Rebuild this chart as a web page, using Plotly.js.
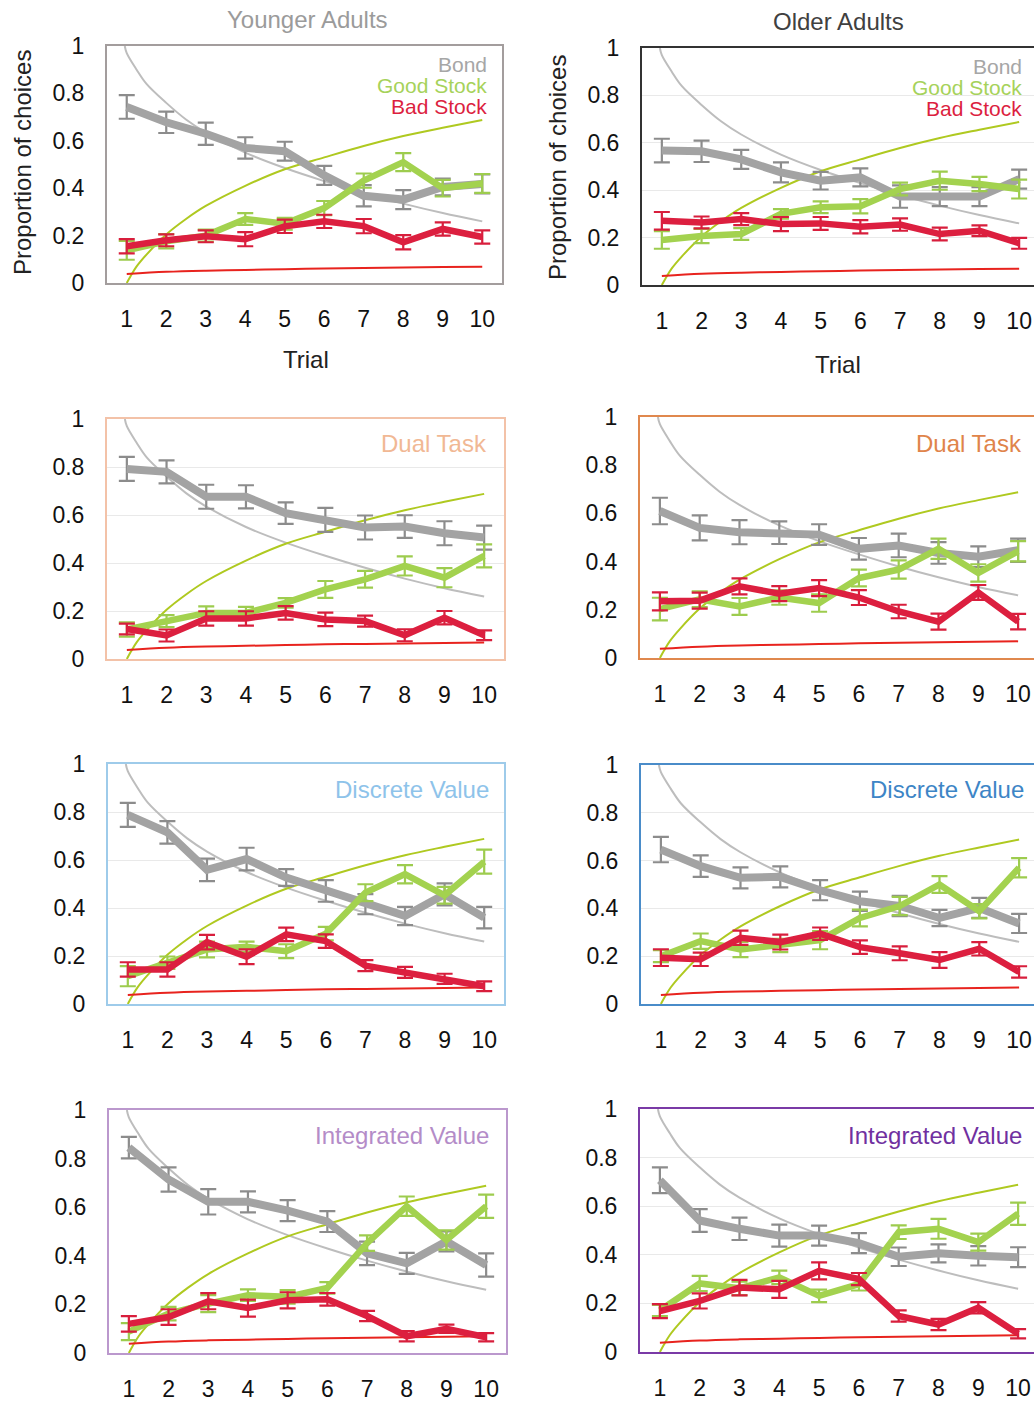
<!DOCTYPE html>
<html>
<head>
<meta charset="utf-8">
<script src="https://cdn.plot.ly/plotly-3.0.1.min.js"></script>
<style>
  html, body { margin: 0; padding: 0; background: #fff; overflow: hidden; }
  #chart { width: 1040px; height: 1401px; }
</style>
</head>
<body>
<div id="chart"></div>
<script>
// ---------- DATA ----------
const trials = [1, 2, 3, 4, 5, 6, 7, 8, 9, 10];
const yTickVals = [0, 0.2, 0.4, 0.6, 0.8, 1];
const yTickText = ["0", "0.2", "0.4", "0.6", "0.8", "1"];
const xTickText = ["1", "2", "3", "4", "5", "6", "7", "8", "9", "10"];

// Model curves (identical in every panel)
const modelBondX = [0.95, 1, 1.25, 1.5, 2, 2.5, 3, 4, 5, 6, 7, 8, 9, 10];
const modelBondY = [1.0, 0.97, 0.9, 0.84, 0.76, 0.69, 0.635, 0.55, 0.485, 0.43, 0.38, 0.335, 0.295, 0.26];
const modelGoodX = [1, 1.1, 1.25, 1.5, 2, 2.5, 3, 4, 5, 6, 7, 8, 9, 10];
const modelGoodY = [0, 0.03, 0.07, 0.12, 0.205, 0.27, 0.325, 0.41, 0.48, 0.53, 0.578, 0.62, 0.655, 0.688];
const modelBadX = [1, 2, 3, 4, 5, 6, 7, 8, 9, 10];
const modelBadY = [0.038, 0.047, 0.052, 0.055, 0.058, 0.061, 0.063, 0.065, 0.067, 0.069];

// Younger adults – baseline
const youngBaseBond = [0.743, 0.678, 0.63, 0.57, 0.556, 0.454, 0.368, 0.352, 0.405, 0.418];
const youngBaseBondErr = [0.05, 0.045, 0.047, 0.045, 0.04, 0.04, 0.045, 0.04, 0.035, 0.04];
const youngBaseGood = [0.138, 0.176, 0.2, 0.27, 0.25, 0.316, 0.432, 0.51, 0.40, 0.42];
const youngBaseGoodErr = [0.04, 0.03, 0.025, 0.025, 0.025, 0.03, 0.03, 0.038, 0.035, 0.04];
const youngBaseBad = [0.155, 0.18, 0.197, 0.185, 0.239, 0.26, 0.24, 0.172, 0.228, 0.194];
const youngBaseBadErr = [0.03, 0.025, 0.025, 0.03, 0.028, 0.028, 0.03, 0.03, 0.028, 0.028];

// Older adults – baseline
const oldBaseBond = [0.567, 0.564, 0.53, 0.475, 0.44, 0.454, 0.373, 0.373, 0.373, 0.447];
const oldBaseBondErr = [0.05, 0.045, 0.04, 0.042, 0.037, 0.038, 0.047, 0.04, 0.04, 0.04];
const oldBaseGood = [0.19, 0.207, 0.215, 0.30, 0.328, 0.332, 0.405, 0.44, 0.426, 0.405];
const oldBaseGoodErr = [0.037, 0.03, 0.025, 0.02, 0.025, 0.03, 0.027, 0.038, 0.03, 0.04];
const oldBaseBad = [0.271, 0.264, 0.278, 0.257, 0.26, 0.246, 0.255, 0.215, 0.229, 0.176];
const oldBaseBadErr = [0.037, 0.025, 0.025, 0.03, 0.027, 0.028, 0.026, 0.027, 0.023, 0.023];

// Younger adults – Dual Task
const youngDualBond = [0.792, 0.78, 0.676, 0.676, 0.608, 0.58, 0.548, 0.552, 0.524, 0.506];
const youngDualBondErr = [0.05, 0.048, 0.05, 0.048, 0.045, 0.05, 0.05, 0.047, 0.05, 0.05];
const youngDualGood = [0.123, 0.158, 0.192, 0.192, 0.234, 0.29, 0.332, 0.388, 0.339, 0.43];
const youngDualGoodErr = [0.03, 0.025, 0.027, 0.025, 0.02, 0.035, 0.035, 0.04, 0.04, 0.048];
const youngDualBad = [0.125, 0.098, 0.169, 0.169, 0.192, 0.165, 0.158, 0.099, 0.172, 0.099];
const youngDualBadErr = [0.022, 0.025, 0.03, 0.03, 0.028, 0.028, 0.023, 0.025, 0.028, 0.02];

// Older adults – Dual Task
const oldDualBond = [0.61, 0.54, 0.522, 0.52, 0.512, 0.453, 0.467, 0.436, 0.42, 0.447];
const oldDualBondErr = [0.055, 0.052, 0.05, 0.047, 0.043, 0.045, 0.049, 0.045, 0.043, 0.048];
const oldDualGood = [0.203, 0.244, 0.214, 0.251, 0.228, 0.332, 0.367, 0.453, 0.353, 0.443];
const oldDualGoodErr = [0.047, 0.033, 0.035, 0.03, 0.036, 0.035, 0.038, 0.042, 0.036, 0.042];
const oldDualBad = [0.235, 0.238, 0.297, 0.267, 0.29, 0.251, 0.193, 0.151, 0.272, 0.151];
const oldDualBadErr = [0.037, 0.033, 0.033, 0.031, 0.033, 0.031, 0.028, 0.033, 0.031, 0.032];

// Younger adults – Discrete Value
const youngDiscBond = [0.788, 0.715, 0.559, 0.604, 0.527, 0.471, 0.416, 0.367, 0.457, 0.36];
const youngDiscBondErr = [0.05, 0.047, 0.047, 0.047, 0.035, 0.045, 0.042, 0.038, 0.046, 0.045];
const youngDiscGood = [0.116, 0.172, 0.227, 0.238, 0.22, 0.293, 0.464, 0.541, 0.453, 0.593];
const youngDiscGoodErr = [0.042, 0.026, 0.033, 0.022, 0.029, 0.028, 0.035, 0.038, 0.035, 0.05];
const youngDiscBad = [0.144, 0.144, 0.258, 0.197, 0.29, 0.262, 0.16, 0.132, 0.105, 0.074];
const youngDiscBadErr = [0.03, 0.03, 0.03, 0.031, 0.028, 0.028, 0.023, 0.023, 0.021, 0.02];

// Older adults – Discrete Value
const oldDiscBond = [0.646, 0.577, 0.528, 0.532, 0.476, 0.43, 0.41, 0.36, 0.402, 0.337];
const oldDiscBondErr = [0.053, 0.045, 0.044, 0.044, 0.042, 0.04, 0.042, 0.034, 0.042, 0.04];
const oldDiscGood = [0.2, 0.263, 0.228, 0.245, 0.267, 0.36, 0.41, 0.5, 0.388, 0.57];
const oldDiscGoodErr = [0.025, 0.032, 0.032, 0.028, 0.038, 0.035, 0.038, 0.035, 0.03, 0.04];
const oldDiscBad = [0.194, 0.187, 0.277, 0.259, 0.294, 0.238, 0.212, 0.184, 0.231, 0.134];
const oldDiscBadErr = [0.035, 0.028, 0.03, 0.031, 0.026, 0.028, 0.029, 0.033, 0.028, 0.024];

// Younger adults – Integrated Value
const youngIntBond = [0.845, 0.714, 0.622, 0.622, 0.586, 0.541, 0.41, 0.369, 0.459, 0.362];
const youngIntBondErr = [0.044, 0.05, 0.052, 0.043, 0.043, 0.043, 0.048, 0.043, 0.041, 0.048];
const youngIntGood = [0.088, 0.162, 0.203, 0.238, 0.231, 0.268, 0.452, 0.604, 0.465, 0.604];
const youngIntGoodErr = [0.035, 0.028, 0.035, 0.024, 0.028, 0.024, 0.032, 0.04, 0.04, 0.048];
const youngIntBad = [0.12, 0.148, 0.213, 0.185, 0.217, 0.221, 0.152, 0.069, 0.1, 0.065];
const youngIntBadErr = [0.032, 0.032, 0.033, 0.035, 0.033, 0.026, 0.021, 0.021, 0.017, 0.017];

// Older adults – Integrated Value
const oldIntBond = [0.707, 0.541, 0.507, 0.479, 0.479, 0.448, 0.392, 0.406, 0.396, 0.39];
const oldIntBondErr = [0.053, 0.047, 0.046, 0.045, 0.041, 0.041, 0.038, 0.037, 0.04, 0.041];
const oldIntGood = [0.171, 0.282, 0.262, 0.307, 0.231, 0.279, 0.493, 0.507, 0.452, 0.569];
const oldIntGoodErr = [0.023, 0.031, 0.028, 0.028, 0.026, 0.026, 0.028, 0.041, 0.035, 0.046];
const oldIntBad = [0.168, 0.21, 0.265, 0.258, 0.334, 0.3, 0.148, 0.113, 0.182, 0.075];
const oldIntBadErr = [0.029, 0.031, 0.032, 0.035, 0.035, 0.025, 0.023, 0.023, 0.023, 0.019];

// ---------- LAYOUT HELPERS ----------
const W = 1040, H = 1401;
const FONT = "Liberation Sans, Arial, Helvetica, sans-serif";
const px = v => v / W;
const py = v => 1 - v / H;

const C = {
  bond: "#a3a3a3", bondErr: "#8c8c8c", bondModel: "#bdbdbd", bondText: "#a6a6a6",
  good: "#a3d24f", goodErr: "#9dcc4e", goodModel: "#afc920", goodText: "#a6d25a",
  bad: "#dc1f3f", badErr: "#d81e3c", badModel: "#e8231e", badText: "#dc1f3f"
};

// panel boxes in pixels: [left, right, top, bottom], frame colour, label, label colour, grid
const panels = [
  { box: [107, 502, 46, 283], frame: "#a39d9d", label: null, grid: false,
    d: [youngBaseBond, youngBaseBondErr, youngBaseGood, youngBaseGoodErr, youngBaseBad, youngBaseBadErr] },
  { box: [642, 1039, 48, 285], frame: "#333333", label: null, grid: true,
    d: [oldBaseBond, oldBaseBondErr, oldBaseGood, oldBaseGoodErr, oldBaseBad, oldBaseBadErr] },
  { box: [107, 504, 419, 659], frame: "#f3c2a8", label: "Dual Task", labelColor: "#f1b894", lx: 489, ly: 444, grid: true,
    d: [youngDualBond, youngDualBondErr, youngDualGood, youngDualGoodErr, youngDualBad, youngDualBadErr] },
  { box: [640, 1038, 417, 658], frame: "#e0884e", label: "Dual Task", labelColor: "#e0844a", lx: 1024, ly: 444, grid: false,
    d: [oldDualBond, oldDualBondErr, oldDualGood, oldDualGoodErr, oldDualBad, oldDualBadErr] },
  { box: [108, 504, 764, 1004], frame: "#9ecbea", label: "Discrete Value", labelColor: "#8ec3ea", lx: 491, ly: 789, grid: true,
    d: [youngDiscBond, youngDiscBondErr, youngDiscGood, youngDiscGoodErr, youngDiscBad, youngDiscBadErr] },
  { box: [641, 1039, 765, 1004], frame: "#4a8cc9", label: "Discrete Value", labelColor: "#3d85c6", lx: 1026, ly: 789, grid: true,
    d: [oldDiscBond, oldDiscBondErr, oldDiscGood, oldDiscGoodErr, oldDiscBad, oldDiscBadErr] },
  { box: [109, 506, 1110, 1353], frame: "#bb98cd", label: "Integrated Value", labelColor: "#b48cc8", lx: 491, ly: 1135, grid: false,
    d: [youngIntBond, youngIntBondErr, youngIntGood, youngIntGoodErr, youngIntBad, youngIntBadErr] },
  { box: [640, 1038, 1109, 1352], frame: "#7a3aa6", label: "Integrated Value", labelColor: "#7030a0", lx: 1024, ly: 1135, grid: true,
    d: [oldIntBond, oldIntBondErr, oldIntGood, oldIntGoodErr, oldIntBad, oldIntBadErr] }
];

const traces = [];
const layout = {
  width: W, height: H,
  margin: { l: 0, r: 0, t: 0, b: 0 },
  paper_bgcolor: "#ffffff", plot_bgcolor: "rgba(0,0,0,0)",
  showlegend: false,
  font: { family: FONT, size: 23, color: "#111111" },
  annotations: []
};

panels.forEach((p, i) => {
  const n = i + 1;
  const xa = "x" + (n === 1 ? "" : n), ya = "y" + (n === 1 ? "" : n);
  const xk = "xaxis" + (n === 1 ? "" : n), yk = "yaxis" + (n === 1 ? "" : n);
  const [l, r, t, b] = p.box;
  layout[xk] = {
    domain: [px(l), px(r)], anchor: ya, range: [0.5, 10.5],
    tickvals: trials, ticktext: xTickText, ticks: "", ticklabelstandoff: 14,
    showgrid: false, zeroline: false, showline: true, mirror: true,
    linecolor: p.frame, linewidth: 2,
    tickfont: { family: FONT, size: 23, color: "#111111" }, fixedrange: true
  };
  layout[yk] = {
    domain: [py(b), py(t)], anchor: xa, range: [0, 1],
    tickvals: yTickVals, ticktext: yTickText, ticks: "", ticklabelstandoff: 16,
    showgrid: p.grid, gridcolor: "#e9e9e9", gridwidth: 1, zeroline: false,
    showline: true, mirror: true, linecolor: p.frame, linewidth: 2,
    tickfont: { family: FONT, size: 23, color: "#111111" }, fixedrange: true
  };

  // model curves
  traces.push({ x: modelBondX, y: modelBondY, xaxis: xa, yaxis: ya, mode: "lines",
    line: { color: C.bondModel, width: 2, shape: "spline", smoothing: 1 }, hoverinfo: "skip" });
  traces.push({ x: modelGoodX, y: modelGoodY, xaxis: xa, yaxis: ya, mode: "lines",
    line: { color: C.goodModel, width: 2, shape: "spline", smoothing: 1 }, hoverinfo: "skip" });
  traces.push({ x: modelBadX, y: modelBadY, xaxis: xa, yaxis: ya, mode: "lines",
    line: { color: C.badModel, width: 2, shape: "spline", smoothing: 1 }, hoverinfo: "skip" });

  const [bond, bondErr, good, goodErr, bad, badErr] = p.d;
  traces.push({ x: trials, y: bond, xaxis: xa, yaxis: ya, mode: "lines", name: "Bond",
    line: { color: C.bond, width: 8 },
    error_y: { type: "data", array: bondErr, visible: true, color: C.bondErr, thickness: 2.2, width: 8 } });
  traces.push({ x: trials, y: good, xaxis: xa, yaxis: ya, mode: "lines", name: "Good Stock",
    line: { color: C.good, width: 6.5 },
    error_y: { type: "data", array: goodErr, visible: true, color: C.goodErr, thickness: 2.2, width: 8 } });
  traces.push({ x: trials, y: bad, xaxis: xa, yaxis: ya, mode: "lines", name: "Bad Stock",
    line: { color: C.bad, width: 6.5 },
    error_y: { type: "data", array: badErr, visible: true, color: C.badErr, thickness: 2.2, width: 8 } });

  if (p.label) {
    layout.annotations.push({ xref: "paper", yref: "paper", x: px(p.lx), y: py(p.ly),
      xanchor: "right", yanchor: "middle", showarrow: false, text: p.label,
      font: { family: FONT, size: 24, color: p.labelColor } });
  }
});

// column titles, axis titles and legends
const textAnn = (text, x, y, size, color, extra) => Object.assign({
  xref: "paper", yref: "paper", x: px(x), y: py(y), xanchor: "center", yanchor: "middle",
  showarrow: false, text: text, font: { family: FONT, size: size, color: color }
}, extra || {});

layout.annotations.push(textAnn("Younger Adults", 307, 20, 24, "#9b9b9b"));
layout.annotations.push(textAnn("Older Adults", 838, 21, 24, "#404040"));
layout.annotations.push(textAnn("Proportion of choices", 22, 163, 24, "#222222", { textangle: -90 }));
layout.annotations.push(textAnn("Proportion of choices", 557, 168, 24, "#222222", { textangle: -90 }));
layout.annotations.push(textAnn("Trial", 306, 360, 24, "#222222"));
layout.annotations.push(textAnn("Trial", 838, 364, 24, "#222222"));

const legendItems = [["Bond", C.bondText], ["Good Stock", C.goodText], ["Bad Stock", C.badText]];
legendItems.forEach((it, k) => {
  layout.annotations.push(textAnn(it[0], 489, 65 + 21 * k, 21, it[1], { xanchor: "right" }));
  layout.annotations.push(textAnn(it[0], 1024, 66 + 21 * k, 21, it[1], { xanchor: "right" }));
});

Plotly.newPlot("chart", traces, layout, { staticPlot: true, displayModeBar: false });
</script>
</body>
</html>
